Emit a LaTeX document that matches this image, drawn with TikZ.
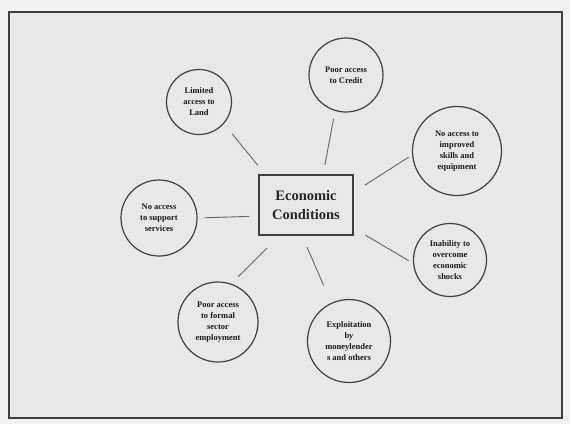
\documentclass[tikz,border=0pt]{standalone}
\usepackage{fontspec}
\setmainfont{Liberation Serif}
\usetikzlibrary{shapes.geometric}
\begin{document}
\begin{tikzpicture}[x=1pt,y=-1pt,
  bubble/.style={circle, draw=black!75, line width=1.2pt, inner sep=0pt, align=center,
    text=black!90, font=\fontsize{8.5}{11}\selectfont\bfseries},
  keybox/.style={rectangle, draw=black!75, line width=2pt, minimum width=94pt,
    minimum height=60pt, align=center, text=black!85,
    font=\fontsize{14.5}{19}\selectfont\bfseries},
  conn/.style={draw=black!60, line width=0.9pt}]
\fill[black!5] (0,0) rectangle (570,424);
\useasboundingbox (0,0) rectangle (570,424);
\draw[line width=2.5pt, draw=black!75, fill=black!9] (9,12) rectangle (562,418);

\node[keybox] (econ) at (306,205) {Economic\\Conditions};
\node[bubble, minimum size=65pt] (land) at (199,102) {Limited\\access to\\Land};
\node[bubble, minimum size=74pt] (credit) at (346,75) {Poor access\\to Credit};
\node[bubble, minimum size=89pt] (skills) at (457,151) {No access to\\improved\\skills and\\equipment};
\node[bubble, minimum size=76pt] (support) at (159,218) {No access\\to support\\services};
\node[bubble, minimum size=73pt] (shocks) at (450,260) {Inability to\\overcome\\economic\\shocks};
\node[bubble, minimum size=80pt] (formal) at (218,322) {Poor access\\to formal\\sector\\employment};
\node[bubble, minimum size=83pt] (exploit) at (349,341) {Exploitation\\by\\moneylender\\s and others};

\draw[conn, shorten <=11pt, shorten >=13pt] (econ.143.1) -- (land.319.4);
\draw[conn, shorten <=9pt, shorten >=8pt] (econ.61.9) -- (credit.253.4);
\draw[conn, shorten <=13pt, shorten >=4pt] (econ.15.5) -- (skills.185);
\draw[conn, shorten <=9pt, shorten >=7pt] (econ.193.2) -- (support.0);
\draw[conn, shorten <=13pt, shorten >=5pt] (econ.334.4) -- (shocks.185.4);
\draw[conn, shorten <=17pt, shorten >=10pt] (econ.229.1) -- (formal.71.2);
\draw[conn, shorten <=12pt, shorten >=19pt] (econ.263) -- (exploit.115.2);
\end{tikzpicture}
\end{document}
